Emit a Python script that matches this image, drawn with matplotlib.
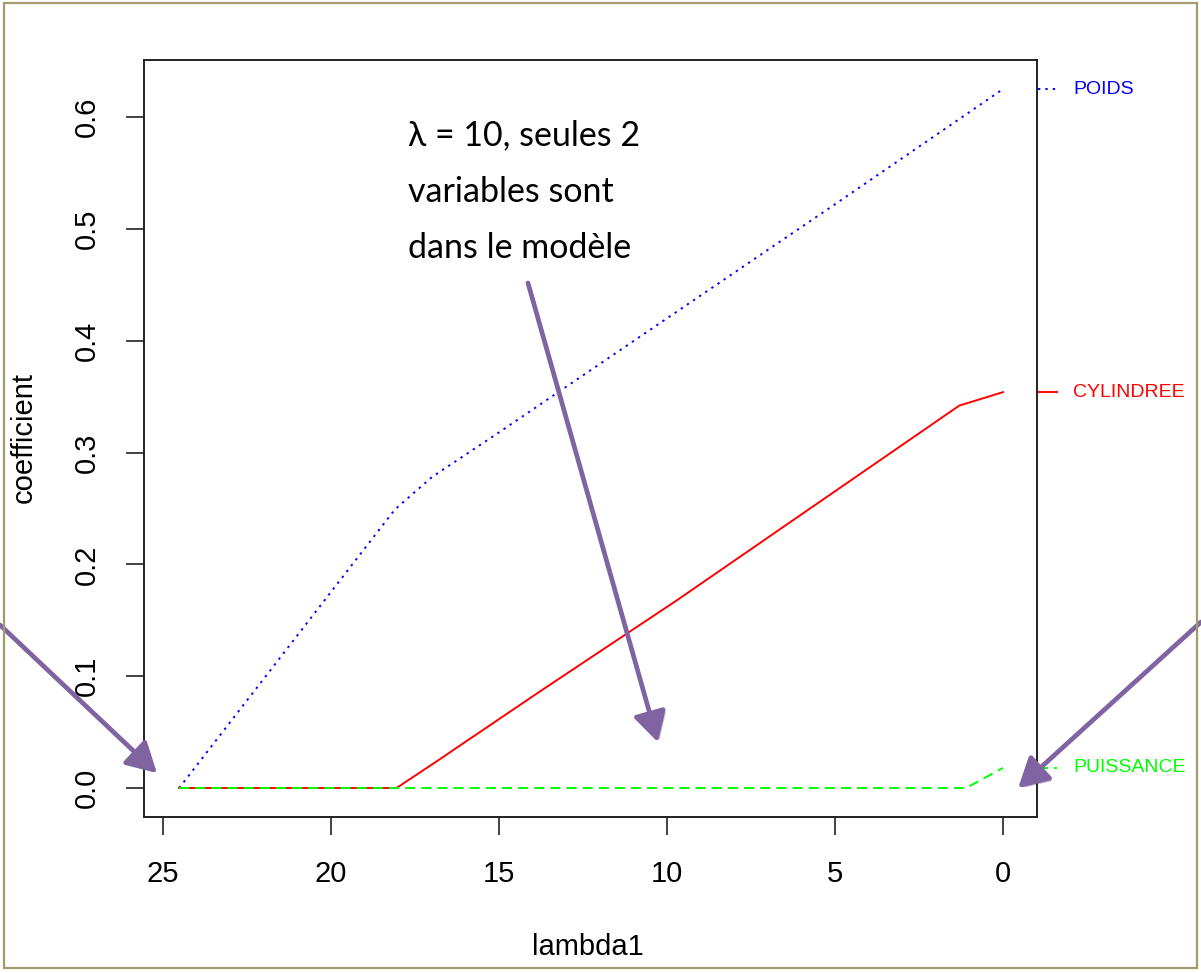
import matplotlib
matplotlib.use("Agg")
import matplotlib.pyplot as plt
import matplotlib.patheffects as pe
from matplotlib.patches import Rectangle, FancyArrowPatch

# chemin du lasso : coefficients en fonction de lambda1
lambda_poids = [24.52, 18.1, 17.0, 15.0, 10.0, 5.0, 0.0]
coef_poids = [0.0, 0.249, 0.278, 0.318, 0.420, 0.522, 0.625]

lambda_cyl = [24.52, 18.05, 16.8, 13.8, 9.7, 1.3, 0.0]
coef_cyl = [0.0, 0.0, 0.025, 0.086, 0.168, 0.342, 0.354]

lambda_puis = [24.52, 1.1, 0.0]
coef_puis = [0.0, 0.0, 0.018]

noms = ["POIDS", "CYLINDREE", "PUISSANCE"]
couleurs = ["#0000FF", "#FF0000", "#00FF00"]

x_ticks = [25, 20, 15, 10, 5, 0]
y_ticks = [0.0, 0.1, 0.2, 0.3, 0.4, 0.5, 0.6]

note = ["λ = 10, seules 2", "variables sont", "dans le modèle"]

W, H = 1201, 973
fig = plt.figure(figsize=(W / 100, H / 100), dpi=100)
fig.patch.set_facecolor("white")

def fx(px):
    return px / W

def fy(py):
    return 1 - py / H

ax = fig.add_axes([fx(144), fy(817), fx(1037) - fx(144), fy(60) - fy(817)])
ax.set_xlim(25.565, -1.012)
ax.set_ylim(-0.0259, 0.651)

lw = 1.4
styles = [dict(dashes=(1.2, 2.6)), dict(), dict(dashes=(5.2, 3.1))]
series = [(lambda_poids, coef_poids), (lambda_cyl, coef_cyl), (lambda_puis, coef_puis)]
for (lx, cy), col, st in zip(series, couleurs, styles):
    ax.plot(lx, cy, color=col, lw=lw, **st)

# étiquettes des variables dans la marge droite
for (lx, cy), col, st, nom in zip(series, couleurs, styles, noms):
    yv = cy[-1]
    ax.plot([-1.04, -1.61], [yv, yv], color=col, lw=lw, clip_on=False, **st)
    ax.text(-2.08, yv, nom, color=col, fontsize=14, family="Liberation Sans",
            ha="left", va="center", clip_on=False)

for s in ax.spines.values():
    s.set_linewidth(1.4)
    s.set_color("#222222")

ax.set_xticks(x_ticks)
ax.set_xticklabels([str(v) for v in x_ticks])
ax.set_yticks(y_ticks)
ax.set_yticklabels([f"{v:.1f}" for v in y_ticks], rotation=90, va="center")
ax.tick_params(direction="out", length=13, width=1.2, pad=18, labelsize=21,
               color="#222222")
for lab in ax.get_xticklabels() + ax.get_yticklabels():
    lab.set_family("Liberation Sans")

fig.text(fx(588), fy(955), "lambda1", fontsize=21, family="Liberation Sans",
         ha="center", va="baseline")
fig.text(fx(32), fy(437), "coefficient", fontsize=21, family="Liberation Sans",
         rotation=90, rotation_mode="anchor", ha="center", va="baseline")

# commentaire
for txt, base in zip(note, [145, 202, 258]):
    fig.text(fx(408), fy(base), txt, fontsize=24.5, family=["Lato", "Open Sans", "DejaVu Sans"],
             ha="left", va="baseline", color="black")

violet = "#8064A2"
ombre = [pe.SimplePatchShadow(offset=(2, -2), alpha=0.25), pe.Normal()]
fleches = [
    ((fx(528), fy(283)), (10.27, 0.041)),
    ((0.0, fy(625)), (25.18, 0.0134)),
    ((1.0, fy(622)), (-0.45, 0.0)),
]
for depart, pointe in fleches:
    a = FancyArrowPatch(posA=fig.transFigure.transform(depart),
                        posB=ax.transData.transform(pointe),
                        transform=None, arrowstyle="-|>,head_length=0.9,head_width=0.5",
                        mutation_scale=20, lw=3.4, color=violet,
                        shrinkA=0, shrinkB=0, path_effects=ombre)
    fig.patches.append(a)

fig.patches.append(Rectangle((fx(4), fy(968)), fx(1197) - fx(4), fy(3) - fy(968),
                             transform=fig.transFigure, fill=False,
                             edgecolor="#A39B6C", lw=1.6))

fig.savefig("out.png", dpi=100)
